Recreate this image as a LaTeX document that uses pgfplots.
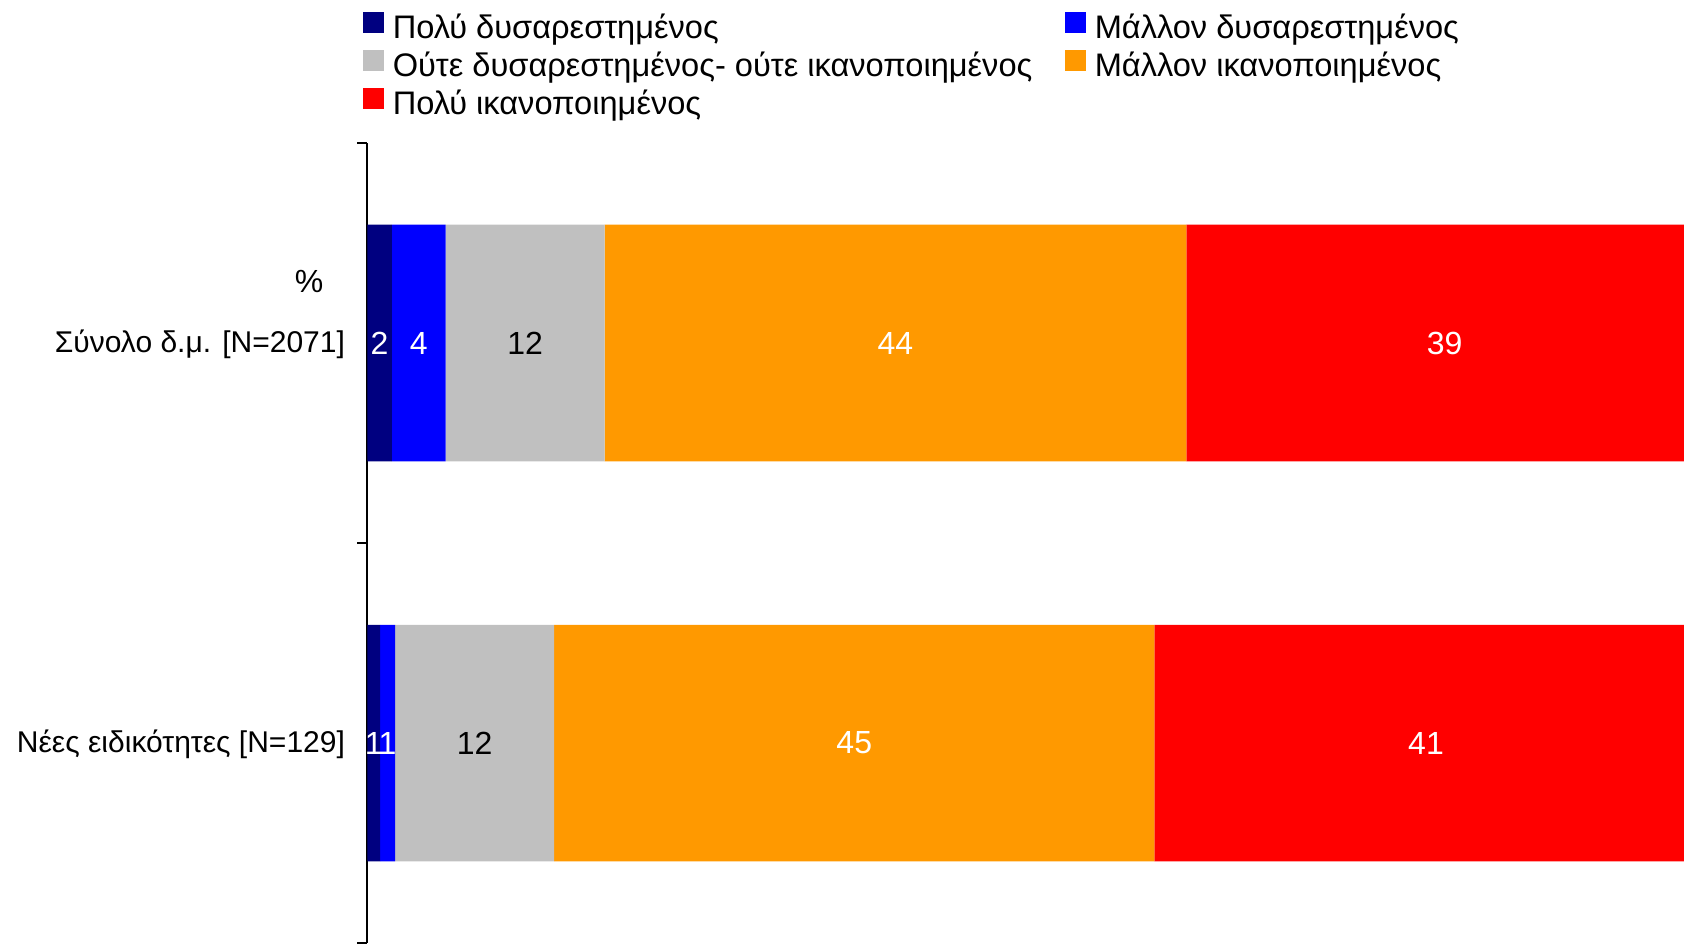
\documentclass[border=0pt]{standalone}
\usepackage{fontspec}
\setmainfont{Liberation Sans}
\usepackage{pgfplots}
\pgfplotsset{compat=1.18}
\usepackage{pgfplotstable}
\definecolor{c1}{HTML}{000080}
\definecolor{c2}{HTML}{0000FF}
\definecolor{c3}{HTML}{C0C0C0}
\definecolor{c4}{HTML}{FF9900}
\definecolor{c5}{HTML}{FF0000}

\pgfplotstableread{
y    a     b     c     d     e
1.5  1.86  4.05  12.0  43.9  39.0
0.5  0.97  1.13  12.0  45.3  41.0
}\bars

\pgfplotstableread{
x     y    lab
0.93  1.5  2
3.885 1.5  4
39.86 1.5  44
81.31 1.5  39
0.485 0.5  1
1.535 0.5  1
36.75 0.5  45
79.9  0.5  41
}\whitelabels

\pgfplotstableread{
x     y    lab
11.91 1.5  12
8.1   0.5  12
}\blacklabels

\newcommand{\fsL}{\fontsize{16.3}{19}\selectfont}
\newcommand{\fsC}{\fontsize{15}{18}\selectfont}
\newcommand{\fsN}{\fontsize{16}{19}\selectfont}

\begin{document}
\begin{tikzpicture}
\useasboundingbox (-183.65pt,0pt) rectangle (658.35pt,471.5pt);
\pgfplotsset{common/.style={
  width=658.35pt, height=400pt, scale only axis,
  at={(0pt,0pt)}, anchor=south west,
  xmin=0, xmax=99.37, ymin=0, ymax=2}}
\begin{axis}[common, name=main,
  xbar stacked, bar width=118.25pt,
  axis x line=none, axis y line*=left,
  y axis line style={line width=1pt, -},
  ytick={0,1,2}, yticklabels={,,},
  tick align=outside, major tick length=5pt,
  tick style={line width=1pt, black},
  extra y ticks={0.5,1.5},
  extra y tick labels={Νέες ειδικότητες [N=129], Σύνολο δ.μ. [N=2071]},
  extra y tick style={major tick length=0pt,
    yticklabel style={font=\fsC, anchor=east, inner sep=0pt, xshift=-11pt, yshift=-0.5pt}},
  legend image code/.code={\fill[#1] (0pt,-2.4pt) rectangle (10.5pt,8.1pt);},
  legend columns=2,
  legend cell align=left,
  legend style={at={(0,1)}, anchor=south west, xshift=-2.15pt, yshift=10.5pt,
    draw=none, fill=none, inner sep=0pt, outer sep=0pt, font=\fsL,
    row sep=1.3pt,
    /tikz/every odd column/.append style={column sep=2.4pt},
    /tikz/every even column/.append style={column sep=14.3pt}},
]
\addplot[fill=c1, draw=none] table[x=a, y=y] {\bars};
\addlegendentry{Πολύ δυσαρεστημένος}
\addplot[fill=c2, draw=none] table[x=b, y=y] {\bars};
\addlegendentry{Μάλλον δυσαρεστημένος}
\addplot[fill=c3, draw=none] table[x=c, y=y] {\bars};
\addlegendentry{Ούτε δυσαρεστημένος- ούτε ικανοποιημένος}
\addplot[fill=c4, draw=none] table[x=d, y=y] {\bars};
\addlegendentry{Μάλλον ικανοποιημένος}
\addplot[fill=c5, draw=none] table[x=e, y=y] {\bars};
\addlegendentry{Πολύ ικανοποιημένος}
\end{axis}

\begin{axis}[common, hide axis, clip=false]
\addplot[only marks, mark=*, mark size=0pt, mark options={draw=none, fill=none},
  nodes near coords, point meta=explicit symbolic,
  nodes near coords style={anchor=center, text=white, font=\fsN, inner sep=0pt}]
  table[x=x, y=y, meta=lab] {\whitelabels};
\addplot[only marks, mark=*, mark size=0pt, mark options={draw=none, fill=none},
  nodes near coords, point meta=explicit symbolic,
  nodes near coords style={anchor=center, text=black, font=\fsN, inner sep=0pt}]
  table[x=x, y=y, meta=lab] {\blacklabels};
\end{axis}

\node[font=\fsN] at ([xshift=-29.15pt, yshift=-69pt]main.north west) {\%};
\end{tikzpicture}
\end{document}
